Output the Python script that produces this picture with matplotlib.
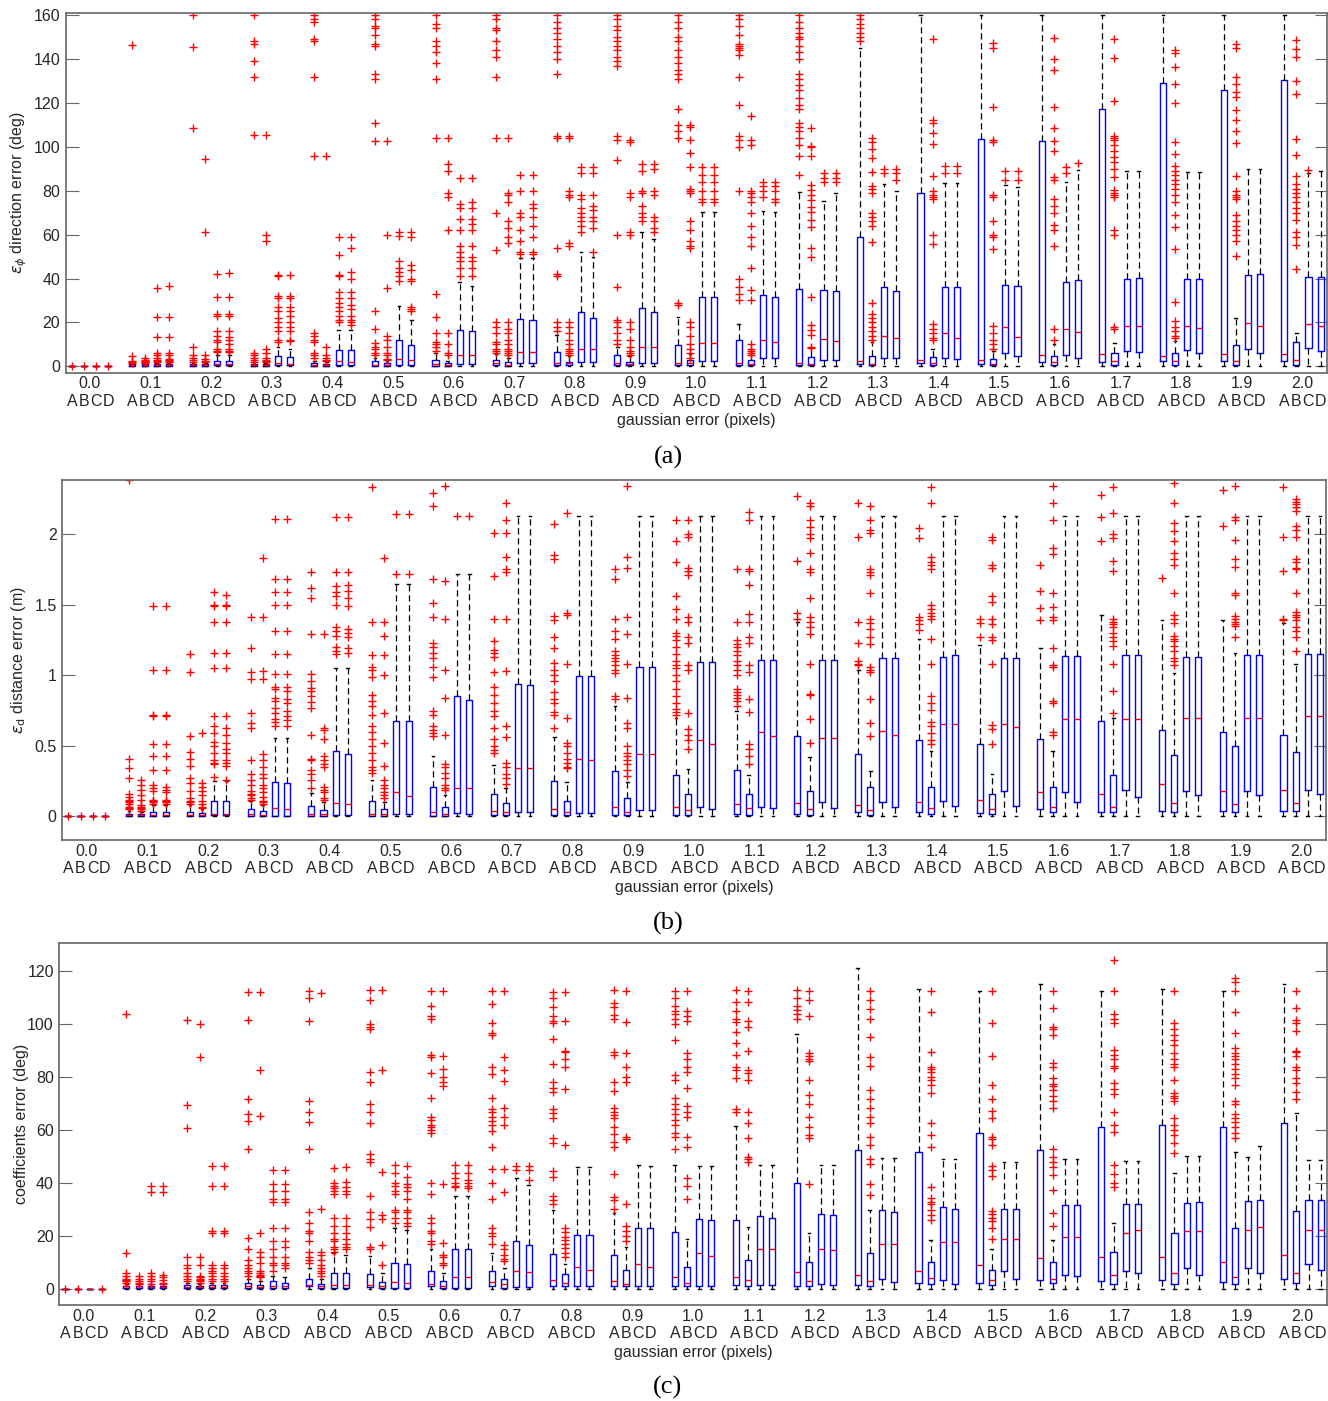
import numpy as np
import matplotlib
matplotlib.use("Agg")
import matplotlib.pyplot as plt
from matplotlib.ticker import FixedLocator

plt.rcParams['font.family'] = ['Liberation Sans', 'DejaVu Sans']

GROUPS = ['0.0', '0.1', '0.2', '0.3', '0.4', '0.5', '0.6', '0.7', '0.8', '0.9', '1.0',
          '1.1', '1.2', '1.3', '1.4', '1.5', '1.6', '1.7', '1.8', '1.9', '2.0']
METHODS = ['A', 'B', 'C', 'D']

# ---------------- (a) direction error (deg) ----------------
A_Q1 = [[0, 0, 0, 0], [0.3, 0.3, 0.3, 0.3], [0.3, 0.3, 0.5, 0.5], [0.3, 0.3, 0.5, 0.5],
        [0.3, 0.3, 0.5, 0.5], [0.3, 0.3, 0.5, 0.5], [0.3, 0.3, 1.0, 1.0], [0.5, 0.3, 1.5, 1.5],
        [0.5, 0.5, 2.0, 2.0], [0.5, 0.5, 1.5, 1.5], [0.5, 0.5, 2.5, 2.5], [0.5, 0.5, 4.0, 4.0],
        [0.5, 0.5, 3.0, 3.0], [1.0, 0.5, 4.0, 4.0], [1.5, 0.5, 4.0, 3.5], [1.0, 0.5, 6.0, 4.5],
        [2.0, 0.5, 5.0, 4.0], [2.0, 0.5, 7.0, 6.5], [2.5, 0.5, 7.5, 6.0], [2.5, 0.5, 8.0, 6.0],
        [2.5, 0.5, 8.5, 7.0]]
A_MED = [[0, 0, 0, 0], [0.6, 0.6, 0.6, 0.6], [0.6, 0.6, 1.0, 1.0], [0.6, 0.6, 1.5, 1.2],
         [0.8, 0.6, 2.5, 2.0], [0.8, 0.6, 3.5, 3.0], [1.0, 0.6, 5.0, 5.0], [1.5, 0.8, 6.5, 6.5],
         [1.5, 1.5, 8.0, 8.0], [1.5, 1.0, 9.0, 9.0], [1.5, 1.5, 10.5, 10.5], [1.5, 1.0, 12.0, 11.0],
         [1.5, 1.0, 12.5, 11.5], [2.5, 1.0, 14.0, 13.0], [2.8, 1.5, 15.0, 13.0], [3.0, 1.0, 18.0, 13.5],
         [5.3, 2.0, 17.0, 15.8], [5.6, 2.5, 18.5, 18.5], [4.9, 2.5, 18.5, 17.5], [5.6, 2.3, 19.7, 18.5],
         [5.8, 2.9, 19.3, 18.2]]
A_Q3 = [[0, 0, 0, 0], [1.0, 1.0, 1.0, 1.0], [1.0, 1.0, 2.6, 2.4], [1.3, 1.0, 4.5, 4.2],
        [1.7, 1.2, 7.6, 7.5], [2.3, 1.5, 12.1, 9.9], [3.0, 1.5, 16.7, 16.3], [3.0, 2.0, 21.5, 21.0],
        [6.4, 2.2, 24.7, 21.8], [5.3, 2.2, 26.5, 24.6], [9.7, 3.0, 31.4, 31.4], [12.0, 3.0, 32.5, 31.5],
        [35.3, 4.1, 34.9, 34.1], [58.7, 4.9, 36.1, 34.4], [78.9, 4.1, 36.1, 36.1], [103.6, 3.5, 37.0, 36.4],
        [102.8, 4.9, 38.4, 39.3], [117.0, 6.1, 39.9, 40.3], [128.9, 6.1, 40.0, 39.7], [125.9, 9.6, 41.4, 42.0],
        [130.4, 11.1, 40.5, 40.9]]
A_WHI = [[0, 0, 0, 0], [1.5, 1.5, 1.5, 1.5], [1.5, 1.5, 5.0, 5.0], [2.0, 1.5, 9.0, 8.0],
         [2.5, 2.0, 16.7, 16.5], [4.0, 2.5, 27.3, 21.2], [6.0, 2.5, 38.2, 36.5], [5.5, 4.0, 49.3, 49.5],
         [14.4, 4.5, 51.9, 49.7], [9.0, 4.5, 61.0, 58.0], [22.3, 5.5, 70.4, 70.4], [19.4, 6.0, 70.7, 70.4],
         [79.5, 8.3, 75.1, 78.9], [144.8, 11.0, 83.0, 80.0], [160, 8.0, 83.7, 83.7], [160, 7.0, 82.7, 81.9],
         [160, 10.0, 84.0, 89.5], [160, 10.6, 89.2, 89.2], [160, 11.4, 88.6, 88.6], [160, 22.0, 89.8, 89.8],
         [160, 15.2, 88.0, 89.0]]
A_OUT = [
    [[0], [0], [0], [0]],
    [[146.3, 4.5, 2.3, 1.8, 1.6], [4, 3, 2.5, 2, 1.8, 1.6],
     [35.6, 22.7, 13.2, 6.3, 5, 4, 3, 2.5, 2], [36.5, 22.7, 13.2, 6.3, 5, 3.5, 3, 2.5, 2]],
    [[160.2, 145.6, 108.7, 8.6, 5, 4, 3, 2.2], [94.3, 61, 5, 3.5, 2.5, 2],
     [42.2, 31.5, 24, 23, 16, 14, 12, 11, 8, 7, 6.5], [42.5, 31.5, 24, 23, 16, 13.5, 12, 10, 8, 7, 6.5]],
    [[160.2, 148, 147, 139, 132, 105.5, 6, 5, 4, 3, 2.2], [105.5, 60, 57, 8, 6, 4, 3, 2.5, 2],
     [41.5, 41, 32, 31, 27, 25, 22, 20, 18, 16, 12, 11], [41.5, 32, 31, 27, 25, 23, 20, 18, 16, 12, 11.5]],
    [[160, 158, 157, 149, 148, 132, 96, 15, 14, 12, 11, 6, 5, 4], [96, 9, 5, 4, 3, 2.5],
     [59, 50.5, 41.5, 41, 34, 31, 29, 27, 25, 23, 21, 20], [59, 54, 43, 40, 34, 31, 28, 26, 23, 21, 20, 19]],
    [[160, 158, 155, 154, 151, 147, 146, 133, 131, 111, 102.5, 25, 17, 10.5, 9, 8, 6, 5],
     [102.5, 60, 35.5, 14, 12, 9, 6, 5, 3.5, 3],
     [61, 59.5, 48, 45, 43, 41, 39], [61, 59, 46, 44, 40, 39, 27, 26, 25]],
    [[160, 156, 154, 148, 146, 143, 138, 131, 104, 33, 22.5, 15, 11, 10, 9, 7],
     [104, 92, 89, 79, 77, 62, 15, 10, 6, 5],
     [86, 74, 72, 67, 62, 55, 52, 50, 48, 45, 41], [86, 75, 72, 67, 65, 62, 55, 50, 48, 45, 41]],
    [[160, 158, 154, 153, 148, 144, 141, 132, 104, 70, 53, 20, 18, 15, 11, 10, 8, 7, 6],
     [104, 79, 78, 75, 66, 63, 59, 56, 20, 17, 15, 12, 10, 8, 7, 6, 5],
     [87, 80, 70, 68, 62, 57, 52, 51], [87, 80, 74, 72, 68, 64, 59, 52, 51]],
    [[160, 157, 154, 152, 149, 146, 143, 140, 133, 105, 104, 54, 42, 41, 20, 18, 16],
     [105, 104, 80, 78, 77, 56, 55, 20, 18, 15, 12, 10, 8, 7, 6, 5],
     [91, 88, 78, 76, 72, 70, 68, 66, 64, 61], [91, 88, 78, 73, 71, 68, 66, 63, 52]],
    [[160, 158, 155, 153, 150, 148, 146, 144, 141, 139, 137, 105, 103, 94, 60, 36, 21, 20, 18, 15, 12, 10],
     [103, 102, 79, 77, 61, 60, 20, 17, 12, 9, 7, 6, 5],
     [92, 89, 80, 79, 73, 70, 68, 66], [92, 90, 80, 78, 68, 66, 63, 61]],
    [[160, 157, 154, 150, 148, 144, 141, 138, 135, 133, 131, 117, 110, 107, 104, 29, 28],
     [110, 109, 103, 97, 91, 81, 80, 79, 66, 62, 57, 55, 54, 20, 18, 14, 10, 8, 6, 4],
     [91, 87, 84, 80, 76, 75], [91, 87, 84, 80, 76, 75]],
    [[160, 158, 155, 151, 147, 146, 145, 144, 142, 132, 119, 105, 103, 100, 80, 40, 36, 33, 30],
     [114, 103, 101, 80, 79, 77, 75, 70, 64, 59, 55, 45, 35, 30, 10, 8, 7, 6, 5],
     [84, 82, 80, 77], [84, 82, 80, 76, 75]],
    [[160, 157, 154, 152, 150, 149, 146, 143, 140, 133, 131, 128, 126, 122, 119, 117, 111, 109, 107,
      104, 101, 96, 87],
     [108.4, 100.5, 100, 95.8, 82.5, 80.4, 78.1, 75.8, 72.8, 70.5, 66.7, 63.7, 53.8, 50, 31.8, 19,
      16.7, 14.4, 9, 8.5],
     [88, 86, 84], [88, 86, 84]],
    [[160, 158, 156, 154, 152, 150, 148],
     [104, 102, 99, 95, 88.7, 82, 81, 79, 69.8, 68, 66, 64, 56.6, 28.8, 24, 22, 20, 18, 16, 14, 12],
     [90, 88], [90, 88, 85]],
    [[], [148.9, 112.2, 111, 106.5, 101.3, 86.9, 80, 78, 77, 76, 59.9, 55.7, 19.4, 17, 15, 13, 12],
     [91.4, 88], [91.4, 88]],
    [[], [147.4, 145, 118, 103.1, 102, 78.1, 77, 66.4, 60, 59, 53.4, 18.5, 15, 12, 10, 8],
     [89, 85], [89, 85]],
    [[], [149.4, 140, 135, 118.3, 108.7, 102.8, 98.3, 86.4, 85, 76.3, 73, 70, 64.5, 62, 54.6, 17, 12],
     [91, 88], [92.8]],
    [[], [149, 140.6, 121, 105, 104, 103, 101, 98, 95.5, 93.1, 90, 86.4, 80.4, 79, 78, 77, 62.2, 59.9,
          18, 17], [], []],
    [[], [144, 142.6, 136.5, 128.6, 120.1, 102, 96.6, 91.3, 89, 87, 85, 83, 81, 78, 75, 69, 63.4, 53.4,
          29.3, 20.5, 18, 16, 14, 13], [], []],
    [[], [147, 144.8, 131.6, 128.6, 125, 122.8, 116.8, 112, 107.4, 101.6, 86.9, 80, 78, 77, 76, 69, 66,
          64, 62, 60, 56.9, 50.3], [], []],
    [[], [148.6, 144.4, 141, 130, 123.9, 103.4, 96.3, 86.7, 83, 81, 79, 77, 75, 72, 70, 66.7, 61.1,
          59.1, 55.4, 44.3], [89.5], []],
]

# ---------------- (b) distance error (m) ----------------
B_Q1 = [[0, 0, 0, 0], [0.005, 0.005, 0.005, 0.005], [0.005, 0.005, 0.01, 0.01], [0.005, 0.005, 0.005, 0.005],
        [0.005, 0.005, 0.01, 0.01], [0.005, 0.005, 0.02, 0.02], [0.005, 0.005, 0.024, 0.02],
        [0.01, 0.01, 0.03, 0.03], [0.01, 0.01, 0.025, 0.025], [0.01, 0.01, 0.047, 0.045],
        [0.01, 0.01, 0.064, 0.054], [0.015, 0.01, 0.064, 0.059], [0.015, 0.01, 0.099, 0.06],
        [0.033, 0.01, 0.104, 0.07], [0.033, 0.02, 0.106, 0.075], [0.026, 0.02, 0.177, 0.075],
        [0.052, 0.03, 0.17, 0.104], [0.035, 0.03, 0.19, 0.137], [0.04, 0.03, 0.18, 0.15],
        [0.04, 0.03, 0.18, 0.15], [0.042, 0.04, 0.19, 0.158]]
B_MED = [[0, 0, 0, 0], [0.01, 0.01, 0.012, 0.012], [0.012, 0.01, 0.02, 0.02], [0.015, 0.012, 0.059, 0.05],
         [0.02, 0.02, 0.094, 0.09], [0.02, 0.02, 0.172, 0.142], [0.03, 0.02, 0.205, 0.205],
         [0.042, 0.035, 0.34, 0.34], [0.054, 0.035, 0.41, 0.4], [0.066, 0.035, 0.44, 0.44],
         [0.07, 0.047, 0.543, 0.515], [0.087, 0.059, 0.6, 0.567], [0.094, 0.052, 0.555, 0.555],
         [0.083, 0.047, 0.607, 0.578], [0.1, 0.059, 0.656, 0.656], [0.118, 0.052, 0.656, 0.637],
         [0.175, 0.07, 0.69, 0.69], [0.16, 0.066, 0.69, 0.69], [0.229, 0.094, 0.7, 0.7],
         [0.18, 0.087, 0.696, 0.696], [0.19, 0.094, 0.71, 0.71]]
B_Q3 = [[0, 0, 0, 0], [0.017, 0.015, 0.035, 0.035], [0.035, 0.025, 0.106, 0.106], [0.052, 0.04, 0.243, 0.234],
        [0.076, 0.045, 0.467, 0.44], [0.113, 0.052, 0.673, 0.673], [0.21, 0.07, 0.855, 0.826],
        [0.158, 0.094, 0.94, 0.928], [0.25, 0.106, 0.994, 0.994], [0.323, 0.13, 1.06, 1.06],
        [0.293, 0.16, 1.095, 1.095], [0.326, 0.158, 1.11, 1.11], [0.567, 0.18, 1.11, 1.11],
        [0.44, 0.208, 1.12, 1.12], [0.543, 0.21, 1.126, 1.145], [0.512, 0.16, 1.12, 1.12],
        [0.548, 0.21, 1.138, 1.138], [0.677, 0.295, 1.14, 1.14], [0.609, 0.437, 1.13, 1.13],
        [0.6, 0.5, 1.14, 1.14], [0.58, 0.453, 1.15, 1.15]]
B_WHI = [[0, 0, 0, 0], [0.04, 0.03, 0.08, 0.08], [0.08, 0.05, 0.25, 0.25], [0.11, 0.08, 0.555, 0.555],
         [0.165, 0.1, 1.05, 1.05], [0.255, 0.1, 1.645, 1.645], [0.425, 0.15, 1.72, 1.72],
         [0.366, 0.2, 2.13, 2.13], [0.56, 0.243, 2.13, 2.13], [0.78, 0.243, 2.13, 2.13],
         [0.696, 0.335, 2.13, 2.13], [0.744, 0.293, 2.13, 2.13], [1.38, 0.42, 2.13, 2.13],
         [1.04, 0.32, 2.13, 2.13], [1.26, 0.465, 2.13, 2.13], [1.216, 0.302, 2.13, 2.13],
         [1.19, 0.465, 2.13, 2.13], [1.43, 0.696, 2.13, 2.13], [1.39, 1.015, 2.13, 2.13],
         [1.39, 1.16, 2.13, 2.13], [1.37, 1.08, 2.13, 2.13]]
B_OUT = [
    [[0], [0], [0], [0]],
    [[2.38, 0.41, 0.34, 0.27, 0.16, 0.14, 0.12, 0.11, 0.1, 0.09, 0.07, 0.06, 0.05],
     [0.26, 0.22, 0.19, 0.15, 0.12, 0.08, 0.07, 0.06, 0.05, 0.04],
     [1.49, 1.04, 0.72, 0.71, 0.51, 0.43, 0.33, 0.22, 0.2, 0.18, 0.12, 0.11, 0.1, 0.09],
     [1.49, 1.04, 0.72, 0.71, 0.51, 0.43, 0.33, 0.21, 0.19, 0.17, 0.12, 0.11, 0.1, 0.09]],
    [[1.15, 1.02, 0.57, 0.46, 0.41, 0.36, 0.27, 0.24, 0.18, 0.13, 0.11, 0.1, 0.09],
     [0.59, 0.24, 0.21, 0.18, 0.15, 0.11, 0.09, 0.07, 0.06],
     [1.59, 1.5, 1.49, 1.38, 1.16, 1.05, 0.71, 0.64, 0.59, 0.53, 0.5, 0.45, 0.4, 0.38, 0.37, 0.28],
     [1.57, 1.5, 1.49, 1.38, 1.16, 1.05, 0.71, 0.63, 0.58, 0.52, 0.48, 0.45, 0.4, 0.38, 0.36, 0.26]],
    [[1.41, 1.19, 1.02, 0.97, 0.73, 0.66, 0.63, 0.4, 0.3, 0.26, 0.22, 0.18, 0.16, 0.15, 0.13, 0.12],
     [1.83, 1.41, 1.03, 0.97, 0.44, 0.4, 0.35, 0.3, 0.27, 0.22, 0.2, 0.17, 0.14, 0.11, 0.1, 0.09],
     [2.11, 1.68, 1.59, 1.5, 1.31, 1.15, 1.01, 0.92, 0.9, 0.84, 0.82, 0.77, 0.73, 0.69, 0.67, 0.64],
     [2.11, 1.68, 1.59, 1.5, 1.31, 1.15, 1.01, 0.92, 0.89, 0.83, 0.8, 0.75, 0.71, 0.68, 0.64]],
    [[1.73, 1.62, 1.55, 1.29, 1.01, 0.96, 0.91, 0.89, 0.85, 0.81, 0.77, 0.58, 0.41, 0.4, 0.33, 0.3, 0.26, 0.2],
     [1.29, 0.63, 0.61, 0.55, 0.43, 0.4, 0.37, 0.35, 0.21, 0.19, 0.17, 0.13, 0.12],
     [2.12, 1.73, 1.63, 1.59, 1.56, 1.5, 1.34, 1.31, 1.28, 1.2, 1.17, 1.15],
     [2.12, 1.73, 1.64, 1.6, 1.55, 1.49, 1.33, 1.3, 1.27, 1.19, 1.16]],
    [[2.33, 1.38, 1.14, 1.06, 1.04, 0.99, 0.86, 0.82, 0.78, 0.72, 0.64, 0.6, 0.55, 0.5, 0.45, 0.4, 0.35,
      0.33, 0.31],
     [1.83, 1.38, 1.28, 1.14, 1.0, 0.73, 0.52, 0.36, 0.26, 0.22, 0.2, 0.17, 0.15, 0.13],
     [2.14, 1.72], [2.14, 1.72]],
    [[2.29, 2.2, 1.68, 1.51, 1.41, 1.23, 1.2, 1.16, 1.12, 1.06, 0.99, 0.75, 0.72, 0.64, 0.61, 0.59, 0.57],
     [2.34, 1.67, 1.4, 1.04, 0.84, 0.58, 0.37, 0.35, 0.31, 0.27, 0.22, 0.2, 0.19],
     [2.13], [2.13]],
    [[2.01, 1.7, 1.4, 1.24, 1.18, 1.16, 1.13, 1.02, 0.92, 0.86, 0.8, 0.75, 0.71, 0.63, 0.55, 0.5, 0.47, 0.45],
     [2.22, 2.1, 2.01, 1.84, 1.75, 1.73, 1.4, 1.03, 0.64, 0.56, 0.38, 0.35, 0.3, 0.27, 0.23],
     [], []],
    [[2.07, 1.85, 1.82, 1.42, 1.39, 1.27, 1.19, 1.09, 1.04, 1.0, 0.96, 0.88, 0.83, 0.8, 0.74, 0.72, 0.63],
     [2.15, 1.44, 1.43, 1.08, 0.7, 0.52, 0.5, 0.45, 0.41, 0.38, 0.35, 0.34],
     [], []],
    [[1.75, 1.68, 1.4, 1.31, 1.26, 1.17, 1.14, 1.12, 1.1, 1.07, 1.04, 1.015, 0.85, 0.83],
     [2.34, 1.84, 1.76, 1.41, 1.29, 1.08, 0.84, 0.66, 0.63, 0.5, 0.45, 0.43, 0.4, 0.37, 0.33, 0.29],
     [], []],
    [[2.1, 1.95, 1.8, 1.56, 1.47, 1.4, 1.3, 1.28, 1.25, 1.2, 1.15, 1.1, 1.07, 1.05, 1.0, 0.96, 0.9, 0.85,
      0.8, 0.76, 0.74, 0.72],
     [2.1, 2.0, 1.98, 1.76, 1.74, 1.71, 1.41, 1.38, 1.27, 1.23, 1.07, 1.04, 0.73, 0.62, 0.58, 0.54, 0.48],
     [], []],
    [[1.75, 1.38, 1.25, 1.22, 1.2, 1.17, 1.14, 1.1, 1.07, 1.04, 1.0, 0.9, 0.88, 0.86, 0.84, 0.82, 0.78],
     [2.155, 2.1, 1.75, 1.74, 1.64, 1.435, 1.38, 1.27, 1.23, 1.07, 1.02, 0.83, 0.74, 0.51, 0.48, 0.43, 0.37],
     [], []],
    [[2.27, 1.81, 1.44, 1.4],
     [2.22, 2.2, 2.1, 2.05, 2.0, 1.97, 1.865, 1.75, 1.73, 1.546, 1.41, 1.38, 1.34, 1.29, 1.08, 0.87, 0.86,
      0.69, 0.52],
     [], []],
    [[2.22, 1.98, 1.38, 1.23, 1.1, 1.08, 1.07],
     [2.2, 2.1, 2.03, 2.01, 1.75, 1.73, 1.71, 1.58, 1.4, 1.37, 1.33, 1.27, 1.22, 1.06, 1.04, 1.02, 0.83,
      0.66, 0.567],
     [], []],
    [[2.04, 1.97, 1.41, 1.39, 1.36, 1.32],
     [2.33, 2.22, 1.84, 1.8, 1.78, 1.75, 1.5, 1.47, 1.44, 1.42, 1.4, 1.26, 1.08, 0.85, 0.8, 0.755, 0.67,
      0.64, 0.59, 0.543, 0.51],
     [], []],
    [[1.4, 1.37, 1.27],
     [1.98, 1.96, 1.78, 1.76, 1.56, 1.52, 1.4, 1.36, 1.27, 1.25, 1.08, 0.65, 0.62, 0.51],
     [], []],
    [[1.78, 1.6, 1.475, 1.39],
     [2.34, 2.22, 2.1, 1.9, 1.86, 1.58, 1.48, 1.41, 1.39, 1.19, 1.07, 1.06, 0.82, 0.8, 0.6, 0.58],
     [], []],
    [[2.28, 2.12, 1.95],
     [2.33, 2.15, 2.0, 1.97, 1.81, 1.735, 1.4, 1.38, 1.36, 1.34, 1.3, 1.27, 1.24, 1.21, 1.08, 0.89, 0.73],
     [], []],
    [[1.69],
     [2.36, 2.22, 2.08, 2.02, 1.95, 1.865, 1.82, 1.78, 1.58, 1.43, 1.4, 1.37, 1.28, 1.26, 1.24, 1.21, 1.17,
      1.12, 1.1, 1.07],
     [], []],
    [[2.31, 2.06],
     [2.34, 2.12, 2.1, 1.96, 1.82, 1.77, 1.58, 1.57, 1.42, 1.4, 1.38, 1.36, 1.35, 1.27],
     [], []],
    [[2.33, 1.98, 1.74, 1.4, 1.39],
     [2.25, 2.23, 2.21, 2.19, 2.16, 2.06, 2.03, 1.98, 1.82, 1.8, 1.76, 1.75, 1.58, 1.45, 1.43, 1.41, 1.39,
      1.34, 1.31, 1.27, 1.17],
     [], []],
]

# ---------------- (c) coefficients error (deg) ----------------
C_Q1 = [[0, 0, 0, 0], [0.5, 0.5, 0.5, 0.5], [0.5, 0.5, 0.5, 0.5], [0.5, 0.5, 0.5, 0.5],
        [1.0, 0.5, 0.5, 0.5], [0.8, 0.5, 0.5, 0.5], [1.0, 0.5, 0.5, 0.5], [1.0, 0.5, 0.8, 0.8],
        [1.0, 1.0, 1.0, 1.0], [1.0, 1.0, 1.0, 1.0], [1.0, 1.0, 1.0, 1.0], [1.5, 1.0, 1.5, 1.5],
        [1.0, 1.0, 2.0, 1.5], [1.5, 1.0, 3.8, 2.8], [2.5, 2.1, 3.6, 2.0], [2.5, 1.5, 6.8, 3.8],
        [3.6, 2.4, 5.5, 4.9], [3.1, 2.1, 6.8, 5.9], [3.6, 2.1, 7.8, 5.3], [2.8, 2.1, 7.8, 5.9],
        [3.8, 2.5, 9.3, 7.2]]
C_MED = [[0, 0, 0, 0], [1.0, 1.0, 0.8, 0.8], [0.8, 0.8, 0.8, 0.8], [1.0, 0.8, 1.0, 1.0],
         [1.5, 1.0, 1.5, 1.5], [1.5, 1.0, 2.8, 2.4], [2.1, 1.0, 4.7, 4.4], [2.6, 1.9, 6.8, 6.5],
         [3.6, 2.5, 8.3, 7.4], [3.1, 2.1, 9.3, 8.4], [4.5, 2.5, 13.5, 12.5], [4.7, 3.3, 15.1, 15.1],
         [6.3, 3.1, 15.3, 14.7], [5.3, 3.0, 16.9, 16.9], [6.9, 4.3, 17.9, 17.9], [9.0, 3.3, 19.1, 19.1],
         [11.6, 4.0, 19.7, 19.5], [12.2, 5.3, 21.3, 22.3], [12.2, 5.9, 22.0, 22.0], [10.3, 4.7, 22.5, 23.4],
         [12.8, 5.9, 22.5, 22.5]]
C_Q3 = [[0, 0, 0, 0], [1.3, 1.2, 1.2, 1.2], [1.5, 1.0, 1.5, 1.5], [2.5, 1.5, 3.0, 2.5],
        [4.0, 2.1, 6.2, 6.2], [5.7, 2.8, 9.7, 9.4], [6.9, 3.1, 15.1, 15.1], [7.0, 4.0, 18.1, 16.7],
        [13.1, 5.8, 20.6, 20.4], [12.8, 7.2, 23.1, 22.9], [21.6, 8.4, 26.4, 26.0], [26.0, 10.9, 27.7, 26.7],
        [39.9, 10.1, 28.2, 27.9], [52.5, 13.5, 29.7, 29.2], [51.7, 10.3, 31.1, 30.4], [59.0, 7.2, 30.1, 30.1],
        [52.5, 10.3, 31.9, 31.9], [61.3, 14.1, 32.1, 32.1], [62.1, 21.0, 32.5, 32.7], [61.3, 23.1, 33.3, 33.6],
        [62.8, 29.4, 33.5, 33.5]]
C_WHI = [[0, 0, 0, 0], [2.0, 1.8, 1.8, 1.8], [2.5, 2.0, 2.5, 2.5], [4.0, 3.0, 5.0, 4.5],
         [8.0, 4.0, 13.5, 13.0], [12.5, 6.0, 22.9, 22.5], [15.3, 5.9, 35.2, 35.0], [13.5, 7.8, 42.0, 39.2],
         [29.7, 9.3, 46.2, 46.0], [28.6, 16.0, 46.8, 46.5], [46.8, 19.1, 46.5, 46.5], [61.6, 23.4, 47.0, 47.0],
         [96.1, 21.0, 47.0, 47.0], [121.0, 29.8, 49.6, 49.6], [113.1, 18.5, 49.0, 49.0],
         [112.5, 15.0, 48.0, 48.0], [115.1, 18.7, 49.0, 49.0], [112.5, 24.8, 48.3, 48.3],
         [113.1, 44.0, 50.3, 50.3], [112.5, 51.8, 49.7, 54.0], [115.1, 66.5, 48.7, 48.7]]
C_OUT = [
    [[0], [0], [], [0]],
    [[104, 13.8, 6, 5, 4, 3.5, 3, 2.5], [5, 4, 3, 2.5, 2],
     [39, 36.7, 6, 5, 4, 3, 2], [39, 36.7, 5.5, 4.5, 3.5, 2.5, 2]],
    [[101.5, 69.4, 60.9, 12, 9, 8, 6, 5, 4, 3], [100.1, 87.7, 12, 9, 5, 4.5, 4, 3.5, 3, 2.5],
     [46.5, 39, 22, 21, 9, 8, 7, 6, 5, 4, 3], [46.5, 39, 22, 21, 9, 8, 6, 5, 4, 3]],
    [[112.2, 101.5, 71.6, 66, 63.5, 53, 19.4, 15, 11, 9, 8, 7, 6, 5],
     [112.2, 82.8, 65.4, 21, 14, 12, 10, 7, 6, 5.5, 5, 4.5],
     [45, 39.5, 37, 34, 33, 23, 18, 15, 12, 10, 9, 7], [45, 39.5, 37, 34, 33, 23, 18, 16, 12, 10, 9, 8]],
    [[112.5, 110, 101, 71, 67, 63, 52.7, 29, 25, 22, 21, 18, 14, 12, 11, 10],
     [111.6, 30.2, 14, 13, 11, 9, 8, 7, 6, 5],
     [45.8, 40, 39, 38, 37, 36, 27, 24, 21, 19, 18, 16, 15, 14],
     [46, 40.5, 38.5, 37, 36, 27, 24, 21, 19, 17, 16, 15]],
    [[113, 109, 100, 99, 98, 82, 78, 70, 67, 62.5, 51, 49, 48, 35, 29, 26.5, 23.5, 16, 15],
     [112.8, 82.6, 44.3, 28, 26.5, 16.6, 9],
     [46.8, 44, 40, 39, 37, 36, 30, 29, 27, 25], [46.5, 42.5, 39.5, 38.5, 37, 34, 30, 29, 27, 25, 24]],
    [[112.5, 107, 103, 102, 88.5, 87.5, 81.5, 72, 65, 64, 62, 61, 60, 59, 40, 36, 27, 25, 22, 21, 18, 17],
     [112.5, 88, 83, 80, 78, 76.5, 39.5, 17.5, 13, 12, 10, 9],
     [47, 44, 42, 40, 39, 38.5], [47, 44, 41, 40, 39, 38]],
    [[112.5, 107.5, 100.5, 96.5, 96, 84, 81, 72, 68, 67, 65, 63.5, 62, 59.5, 53.5, 45.5, 40, 34, 23, 21,
      20, 17],
     [112.5, 87.5, 82.5, 78.5, 68.5, 65, 62, 45.5, 36.5, 16.5, 15, 13, 11.5, 10.5],
     [46.5, 44.9], [46.5, 45, 41]],
    [[112, 110, 106.5, 103, 101, 100.5, 94.5, 85, 78, 76, 74.5, 68, 66.5, 64.5, 57, 55, 44.5, 42.5, 35,
      33.5, 32],
     [112, 101, 90, 89.5, 87, 84, 75.5, 54.5, 23, 21.5, 19.5, 18.5, 17, 15.5, 13.5, 12],
     [], []],
    [[112.8, 107.8, 106.5, 103.4, 102.1, 89.6, 88.3, 78.2, 74.8, 68.2, 66.9, 65.7, 64.4, 61.3, 58.4, 55.6,
      53.7, 43.6, 34.8, 33.6, 30.2],
     [112.5, 100.9, 89, 84, 80, 78, 57.5, 56.5, 32.3, 24, 22, 20, 18],
     [], []],
    [[112.5, 110, 107, 105, 104, 102, 100, 94, 80.8, 79, 72, 70, 68, 66, 64, 62, 59, 57.5, 53],
     [112.5, 105, 103, 101, 89, 87, 84, 82, 76, 69, 67, 65, 57.5, 53.7, 42, 39, 34],
     [], []],
    [[112.8, 108.4, 104.9, 102.1, 100.9, 97.1, 92.7, 88.3, 83.9, 82.6, 79.5, 67.9, 66.7],
     [112.5, 108.5, 101, 99, 89.8, 82.5, 81.5, 79, 67, 62.5, 56.9, 50, 49, 48],
     [], []],
    [[113, 110, 107, 105.5, 104, 102],
     [112.5, 109, 103, 89, 88, 87, 86, 78.9, 73.2, 69.7, 65, 61.3, 58.1, 56.9, 39.5],
     [], []],
    [[], [112.5, 109, 105.7, 101.8, 95.2, 87.7, 84.3, 75.1, 71.9, 68.4, 65, 62.5, 57.5, 54.3, 49.1, 47.4,
          39.5, 35.7], [], []],
    [[], [112.5, 104.4, 89.6, 84, 83, 82, 80, 79, 77, 74, 62.5, 58.1, 53.7, 38.4, 34.5, 33, 32, 30, 28,
          26], [], []],
    [[], [112.5, 100.6, 88, 77.2, 71.9, 67.2, 64.7, 57.5, 56.6, 54.3, 46.5, 44.9, 42.8, 29.4, 28.2, 26.9,
          25.7, 23.1, 19.1], [], []],
    [[], [112.5, 106.2, 99, 98, 95.8, 85.2, 83.9, 79.5, 77.5, 76.5, 75, 73, 71, 68.2, 53, 49.7, 48, 46,
          43, 37.4, 28.6, 23.9], [], []],
    [[], [124.2, 112.5, 103.8, 102, 100.3, 90.2, 88.3, 87, 84.2, 83.5, 77.6, 75.7, 73.5, 66.7, 62.1,
          59.4, 46.8, 43.3, 39.9, 38.6], [], []],
    [[], [112.5, 100.6, 98, 96, 94, 92, 89, 87, 85, 84, 78.9, 74, 73, 72, 71, 64.4, 62, 60, 58, 55,
          51.2], [], []],
    [[], [117.5, 116, 112.5, 104.4, 96.7, 91, 89, 88, 87, 85, 83, 81, 79.5, 77, 71, 70, 66, 64.5, 63,
          61, 59, 57], [], []],
    [[], [112.5, 105.9, 101.5, 100.5, 97.5, 90, 89.5, 88, 83.9, 82.6, 79.5, 77.6, 74.5, 71.9], [], []],
]

TXT = '#262626'
SPINE = '#666666'
FS = 11.5

fig = plt.figure(figsize=(13.28, 14.01), dpi=100)


def panel(rect, q1, med, q3, whi, out, ylim, yticks, yticklabels, ylabel, label_x):
    ax = fig.add_axes(rect)
    stats, pos = [], []
    for g in range(len(GROUPS)):
        for k in range(len(METHODS)):
            stats.append(dict(q1=q1[g][k], med=med[g][k], q3=q3[g][k],
                              whislo=0.0, whishi=whi[g][k],
                              fliers=np.array(out[g][k], dtype=float)))
            pos.append(5 * g + k + 1)
    ax.bxp(stats, positions=pos, widths=0.5, capwidths=0.22, manage_ticks=False,
           boxprops=dict(color='#0000ff', linewidth=1.0),
           medianprops=dict(color='#ff0000', linewidth=1.0),
           whiskerprops=dict(color='black', linewidth=0.9, linestyle=(0, (5, 3))),
           capprops=dict(color='black', linewidth=1.0),
           flierprops=dict(marker='+', markeredgecolor='#ff0000', markersize=6,
                           markeredgewidth=1.0, linestyle='none'))
    ax.set_xlim(0.5, 104.5)
    ax.set_ylim(*ylim)
    ax.set_yticks(yticks)
    ax.set_yticklabels(yticklabels)
    ax.tick_params(axis='y', direction='in', left=True, right=True, length=9,
                   color=SPINE, labelsize=FS, labelcolor=TXT, pad=4)
    ax.set_xticks(pos)
    ax.set_xticklabels(METHODS * len(GROUPS))
    ax.xaxis.set_minor_locator(FixedLocator([5 * g + 2.5 for g in range(len(GROUPS))]))
    ax.set_xticklabels(GROUPS, minor=True)
    ax.tick_params(axis='x', which='major', length=0, pad=15, labelsize=FS, labelcolor=TXT)
    ax.tick_params(axis='x', which='minor', length=0, pad=2.5, labelsize=FS, labelcolor=TXT)
    for s in ax.spines.values():
        s.set_color(SPINE)
        s.set_linewidth(1.2)
    ax.set_xlabel('gaussian error (pixels)', fontsize=FS, color=TXT, labelpad=3)
    ax.set_ylabel(ylabel, fontsize=FS, color=TXT)
    ax.yaxis.set_label_coords(label_x, 0.5)
    return ax


panel([0.0495, 0.7338, 0.9495, 0.2567], A_Q1, A_MED, A_Q3, A_WHI, A_OUT,
      (-3.0, 160.8), list(range(0, 161, 20)), [str(v) for v in range(0, 161, 20)],
      r'$\epsilon_{\phi}$ direction error (deg)', -0.029)
panel([0.0469, 0.4001, 0.9516, 0.2575], B_Q1, B_MED, B_Q3, B_WHI, B_OUT,
      (-0.17, 2.385), [0, 0.5, 1, 1.5, 2], ['0', '0.5', '1', '1.5', '2'],
      r'$\epsilon_{\mathrm{d}}$ distance error (m)', -0.027)
panel([0.0447, 0.0685, 0.9544, 0.2582], C_Q1, C_MED, C_Q3, C_WHI, C_OUT,
      (-6.0, 130.5), list(range(0, 121, 20)), [str(v) for v in range(0, 121, 20)],
      'coefficients error (deg)', -0.024)

for txt, yp in [('(a)', 457), ('(b)', 923), ('(c)', 1387)]:
    fig.text(668 / 1328, 1 - yp / 1401, txt, ha='center', va='center',
             family=['Liberation Serif', 'DejaVu Serif'], fontsize=19, color='black')

fig.savefig('out.png', dpi=100, facecolor='white')
